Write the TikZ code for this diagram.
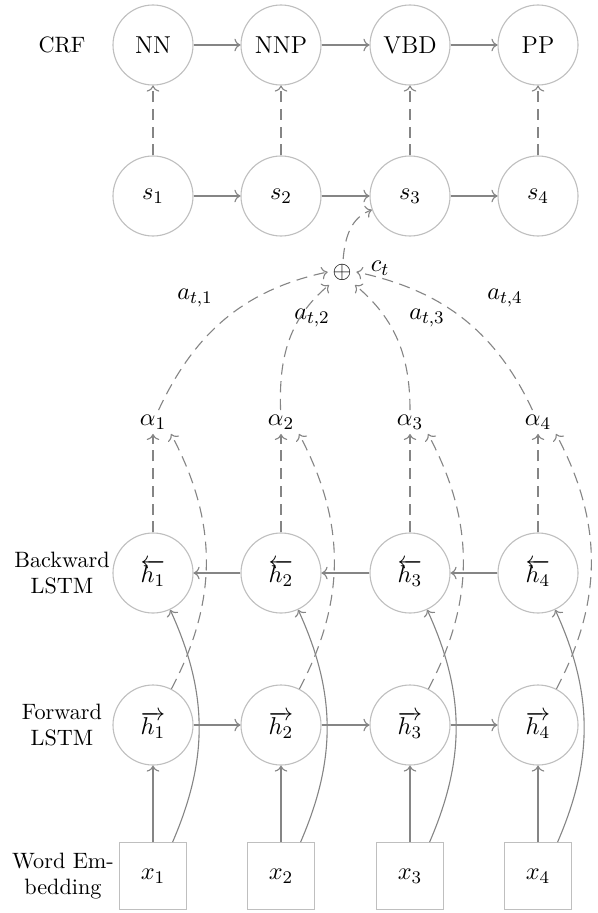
\documentclass[tikz,border=0pt]{standalone}
\usetikzlibrary{arrows.meta}
\begin{document}
\begin{tikzpicture}[x=0.45pt,y=0.45pt,
  big/.style={font=\fontsize{11}{13}\selectfont},
  cell/.style={big, draw=black!25, circle, minimum size=36pt, inner sep=0pt, line width=0.5pt},
  box/.style={big, draw=black!25, rectangle, minimum size=30pt, inner sep=0pt, line width=0.5pt},
  conn/.style={draw=black!48, line width=0.5pt, ->},
  dconn/.style={conn, dash pattern=on 5pt off 3pt},
  lab/.style={align=center, inner sep=0pt},
  mnode/.style={big, inner sep=2pt},
  wnode/.style={big, inner sep=0pt}
]
\useasboundingbox (0,0) rectangle (598,-913);
% left labels
\node[lab] (lcrf) at (62,-45) {CRF};
\node[lab] (lbw) at (62,-573) {Backward\\LSTM};
\node[lab] (lfw) at (62,-725) {Forward\\LSTM};
\node[lab] (lwe) at (63,-876) {Word Em-\\bedding};
% CRF row
\node[cell] (c1) at (153,-45) {NN};
\node[cell] (c2) at (281,-45) {NNP};
\node[cell] (c3) at (410,-45) {VBD};
\node[cell] (c4) at (538,-45) {PP};
% s row
\node[cell] (s1) at (153,-196) {$s_1$};
\node[cell] (s2) at (281,-196) {$s_2$};
\node[cell] (s3) at (410,-196) {$s_3$};
\node[cell] (s4) at (538,-196) {$s_4$};
% attention sum
\node[mnode] (plus) at (342,-272) {$\oplus$};
\node[wnode] (ct) at (380,-268) {$c_t$};
% alphas
\node[mnode] (al1) at (153,-422) {$\alpha_1$};
\node[mnode] (al2) at (281,-422) {$\alpha_2$};
\node[mnode] (al3) at (410,-422) {$\alpha_3$};
\node[mnode] (al4) at (538,-422) {$\alpha_4$};
% weights labels
\node[wnode] (a1) at (195,-298) {$a_{t,1}$};
\node[wnode] (a2) at (312,-318) {$a_{t,2}$};
\node[wnode] (a3) at (427,-318) {$a_{t,3}$};
\node[wnode] (a4) at (505,-298) {$a_{t,4}$};
% backward
\node[cell] (hb1) at (153,-573) {$\overleftarrow{h_1}$};
\node[cell] (hb2) at (281,-573) {$\overleftarrow{h_2}$};
\node[cell] (hb3) at (410,-573) {$\overleftarrow{h_3}$};
\node[cell] (hb4) at (538,-573) {$\overleftarrow{h_4}$};
% forward
\node[cell] (fh1) at (153,-725) {$\overrightarrow{h_1}$};
\node[cell] (fh2) at (281,-725) {$\overrightarrow{h_2}$};
\node[cell] (fh3) at (410,-725) {$\overrightarrow{h_3}$};
\node[cell] (fh4) at (538,-725) {$\overrightarrow{h_4}$};
% inputs
\node[box] (x1) at (153,-876) {$x_1$};
\node[box] (x2) at (281,-876) {$x_2$};
\node[box] (x3) at (410,-876) {$x_3$};
\node[box] (x4) at (538,-876) {$x_4$};

% horizontal chains
\draw[conn] (c1) -- (c2);
\draw[conn] (c2) -- (c3);
\draw[conn] (c3) -- (c4);
\draw[conn] (s1) -- (s2);
\draw[conn] (s2) -- (s3);
\draw[conn] (s3) -- (s4);
\draw[conn] (hb4) -- (hb3);
\draw[conn] (hb3) -- (hb2);
\draw[conn] (hb2) -- (hb1);
\draw[conn] (fh1) -- (fh2);
\draw[conn] (fh2) -- (fh3);
\draw[conn] (fh3) -- (fh4);

\foreach \i in {1,2,3,4}{
  \draw[dconn] (s\i) -- (c\i);
  \draw[dconn] (hb\i) -- (al\i.south);
  \draw[dconn] (fh\i.63) to[bend right=28] (al\i.south east);
  \draw[conn] (x\i) -- (fh\i);
  \draw[conn] (x\i.60) to[bend right=24] (hb\i.-65);
}

% attention
\draw[dconn] (plus) to[out=85,in=200] (s3.200);
\draw[dconn] (al1) to[out=65,in=192] (plus.west);
\draw[dconn] (al2) to[out=92,in=220] (plus.225);
\draw[dconn] (al3) to[out=90,in=-40] (plus.-45);
\draw[dconn] (al4) to[out=115,in=-12] (plus.east);
\end{tikzpicture}
\end{document}
